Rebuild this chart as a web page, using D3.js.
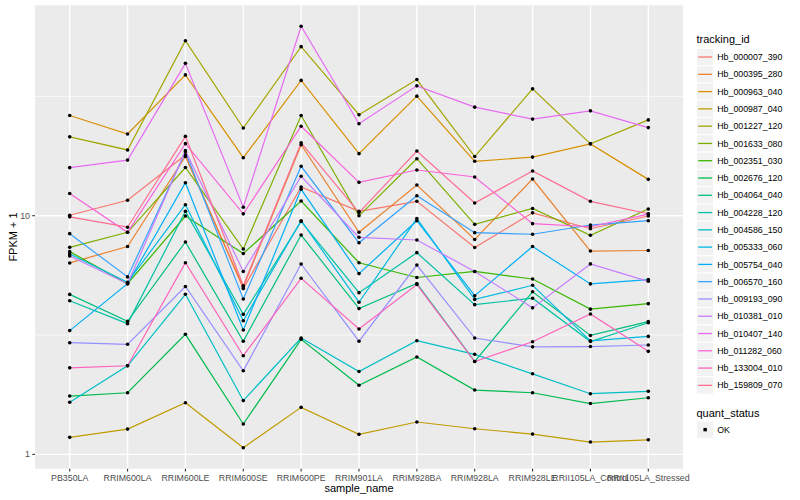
<!DOCTYPE html>
<html><head><meta charset="utf-8">
<script src="https://cdn.jsdelivr.net/npm/d3@7"></script>
<style>body{margin:0;background:#fff} text{font-family:"Liberation Sans",Arial,Helvetica,sans-serif}</style>
</head><body><svg id="c" width="800" height="500"></svg>
<script>
// ---- data ----
const samples = ["PB350LA","RRIM600LA","RRIM600LE","RRIM600SE","RRIM600PE","RRIM901LA","RRIM928BA","RRIM928LA","RRIM928LE","RRII105LA_Control","RRII105LA_Stressed"];
const trackingIds = ["Hb_000007_390","Hb_000395_280","Hb_000963_040","Hb_000987_040","Hb_001227_120","Hb_001633_080","Hb_002351_030","Hb_002676_120","Hb_004064_040","Hb_004228_120","Hb_004586_150","Hb_005333_060","Hb_005754_040","Hb_006570_160","Hb_009193_090","Hb_010381_010","Hb_010407_140","Hb_011282_060","Hb_133004_010","Hb_159809_070"];
// FPKM + 1 per sample (order of samples)
const hb000007_390 = [10.04, 11.61, 17.96, 4.95, 13.19, 10.43, 11.49, 7.36, 10.28, 8.82, 9.97];
const hb000395_280 = [6.34, 7.43, 17.7, 5.03, 19.84, 8.52, 13.45, 7.95, 14.25, 7.11, 7.15];
const hb000963_040 = [26.3, 22.0, 38.9, 17.5, 36.9, 18.2, 31.7, 16.9, 17.6, 20.0, 14.2];
const hb000987_040 = [1.178, 1.276, 1.645, 1.066, 1.574, 1.213, 1.366, 1.280, 1.216, 1.126, 1.151];
const hb001227_120 = [21.4, 18.86, 54.1, 23.3, 51.1, 26.5, 37.2, 17.7, 34.0, 20.0, 25.2];
const hb001633_080 = [7.37, 8.52, 15.92, 7.25, 26.3, 9.99, 17.33, 9.20, 10.72, 8.28, 10.67];
const hb002351_030 = [7.07, 5.19, 9.97, 6.94, 11.52, 6.35, 5.51, 5.84, 5.43, 4.06, 4.28];
const hb002676_120 = [1.755, 1.812, 3.184, 1.340, 3.034, 1.948, 2.557, 1.860, 1.812, 1.633, 1.727];
const hb004064_040 = [4.68, 3.61, 7.76, 2.98, 8.30, 4.08, 5.20, 2.45, 4.80, 3.15, 3.60];
const hb004228_120 = [4.40, 3.53, 10.43, 3.86, 9.46, 4.76, 7.00, 4.24, 4.51, 2.97, 3.56];
const hb004586_150 = [1.653, 2.351, 4.684, 1.680, 3.072, 2.223, 2.994, 2.625, 2.175, 1.795, 1.837];
const hb005333_060 = [6.91, 5.26, 11.12, 3.63, 9.53, 4.34, 9.73, 4.46, 5.11, 2.99, 3.12];
const hb005754_040 = [3.30, 5.19, 13.75, 3.32, 12.90, 5.72, 9.53, 4.62, 7.43, 5.18, 5.40];
const hb006570_160 = [8.41, 5.54, 18.49, 4.48, 16.11, 7.70, 12.13, 8.49, 8.36, 9.14, 9.53];
const hb009193_090 = [2.936, 2.891, 5.05, 2.24, 6.275, 2.979, 6.214, 3.072, 2.822, 2.830, 2.872];
const hb010381_010 = [6.78, 5.19, 18.73, 5.84, 14.63, 8.12, 7.91, 5.84, 4.11, 6.28, 5.31];
const hb010407_140 = [15.9, 17.1, 43.5, 10.85, 62.2, 24.3, 35.0, 28.5, 25.4, 27.5, 23.4];
const hb011282_060 = [12.39, 8.52, 20.04, 10.18, 23.7, 13.80, 15.54, 14.53, 9.26, 8.99, 10.16];
const hb133004_010 = [2.304, 2.351, 6.353, 2.590, 5.466, 3.351, 5.148, 2.448, 2.964, 3.873, 2.702];
const hb159809_070 = [9.89, 8.95, 21.5, 5.09, 20.2, 10.31, 18.67, 11.30, 15.39, 11.49, 10.19];
const seriesValues = [hb000007_390, hb000395_280, hb000963_040, hb000987_040, hb001227_120, hb001633_080, hb002351_030, hb002676_120, hb004064_040, hb004228_120, hb004586_150, hb005333_060, hb005754_040, hb006570_160, hb009193_090, hb010381_010, hb010407_140, hb011282_060, hb133004_010, hb159809_070];
const quantStatus = ["OK"];
const yTickValues = [1, 10];
const yTickLabels = ["1", "10"];

// ---- styles ----
const palette = ["#F8766D","#EA8331","#D89000","#C09B00","#A3A500","#7CAE00","#39B600","#00BB4E","#00BF7D","#00C1A3","#00BFC4","#00BAE0","#00B0F6","#35A2FF","#9590FF","#C77CFF","#E76BF3","#FA62DB","#FF62BC","#FF6C91"];

const svg = d3.select("#c");
const P = {l: 35, r: 683, t: 5.2, b: 468.8};
const x = d3.scalePoint().domain(samples).range([P.l, P.r]).padding(0.6);
const all = seriesValues.flat();
const lmin = Math.log10(d3.min(all)), lmax = Math.log10(d3.max(all));
const ex = (lmax - lmin) * 0.05;
const y = d3.scaleLog().domain([Math.pow(10, lmin - ex), Math.pow(10, lmax + ex)]).range([P.b, P.t]);

svg.append("rect").attr("width", 800).attr("height", 500).attr("fill", "#fff");
svg.append("rect").attr("x", P.l).attr("y", P.t).attr("width", P.r - P.l).attr("height", P.b - P.t).attr("fill", "#EBEBEB");

const g = svg.append("g");
// minor grid (log midpoints)
[Math.sqrt(10), Math.sqrt(1000)].forEach(v => {
  g.append("line").attr("x1", P.l).attr("x2", P.r).attr("y1", y(v)).attr("y2", y(v))
    .attr("stroke", "#fff").attr("stroke-width", 0.7);
});
yTickValues.forEach(v => {
  g.append("line").attr("x1", P.l).attr("x2", P.r).attr("y1", y(v)).attr("y2", y(v))
    .attr("stroke", "#fff").attr("stroke-width", 1.4);
});
samples.forEach(s => {
  g.append("line").attr("x1", x(s)).attr("x2", x(s)).attr("y1", P.t).attr("y2", P.b)
    .attr("stroke", "#fff").attr("stroke-width", 1.4);
});

// lines
const line = d3.line().x((d, i) => x(samples[i])).y(d => y(d));
seriesValues.forEach((vals, i) => {
  g.append("path").attr("d", line(vals)).attr("fill", "none")
    .attr("stroke", palette[i]).attr("stroke-width", 1.2);
});
// points
seriesValues.forEach(vals => {
  vals.forEach((v, j) => {
    g.append("circle").attr("cx", x(samples[j])).attr("cy", y(v)).attr("r", 1.8).attr("fill", "#000");
  });
});

// axes
yTickValues.forEach((v, i) => {
  svg.append("line").attr("x1", P.l - 2.75).attr("x2", P.l).attr("y1", y(v)).attr("y2", y(v))
    .attr("stroke", "#333").attr("stroke-width", 1.1);
  svg.append("text").attr("x", P.l - 5).attr("y", y(v) + 3.1).attr("text-anchor", "end")
    .attr("font-size", 8.8).attr("fill", "#4D4D4D").text(yTickLabels[i]);
});
samples.forEach(s => {
  svg.append("line").attr("x1", x(s)).attr("x2", x(s)).attr("y1", P.b).attr("y2", P.b + 2.75)
    .attr("stroke", "#333").attr("stroke-width", 1.1);
  svg.append("text").attr("x", x(s)).attr("y", 480.5).attr("text-anchor", "middle")
    .attr("font-size", 8.8).attr("fill", "#4D4D4D").text(s);
});
svg.append("text").attr("x", (P.l + P.r) / 2).attr("y", 491.5).attr("text-anchor", "middle")
  .attr("font-size", 11).attr("fill", "#000").text("sample_name");
svg.append("text").attr("transform", `translate(16.5,${(P.t + P.b) / 2}) rotate(-90)`)
  .attr("text-anchor", "middle").attr("font-size", 11).attr("fill", "#000").text("FPKM + 1");

// legend
const LX = 696.5, keyH = 17.28, top0 = 48.4;
svg.append("text").attr("x", LX).attr("y", 43).attr("font-size", 11).text("tracking_id");
trackingIds.forEach((id, i) => {
  const ty = top0 + i * keyH;
  svg.append("rect").attr("x", LX).attr("y", ty).attr("width", keyH).attr("height", keyH)
    .attr("fill", "#F2F2F2").attr("stroke", "#fff").attr("stroke-width", 1);
  svg.append("line").attr("x1", LX + 1.7).attr("x2", LX + keyH - 1.7).attr("y1", ty + keyH / 2).attr("y2", ty + keyH / 2)
    .attr("stroke", palette[i]).attr("stroke-width", 1.3);
  svg.append("text").attr("x", LX + keyH + 3.5).attr("y", ty + keyH / 2 + 3.1)
    .attr("font-size", 8.8).attr("fill", "#000").text(id);
});
svg.append("text").attr("x", LX).attr("y", 416.5).attr("font-size", 11).text("quant_status");
quantStatus.forEach((q, i) => {
  const ty = 421 + i * keyH;
  svg.append("rect").attr("x", LX).attr("y", ty).attr("width", keyH).attr("height", keyH)
    .attr("fill", "#F2F2F2").attr("stroke", "#fff").attr("stroke-width", 1);
  svg.append("rect").attr("x", LX + keyH / 2 - 1.7).attr("y", ty + keyH / 2 - 1.7).attr("width", 3.4).attr("height", 3.4).attr("fill", "#000");
  svg.append("text").attr("x", LX + keyH + 3.5).attr("y", ty + keyH / 2 + 3.1)
    .attr("font-size", 8.8).attr("fill", "#000").text(q);
});
</script></body></html>
